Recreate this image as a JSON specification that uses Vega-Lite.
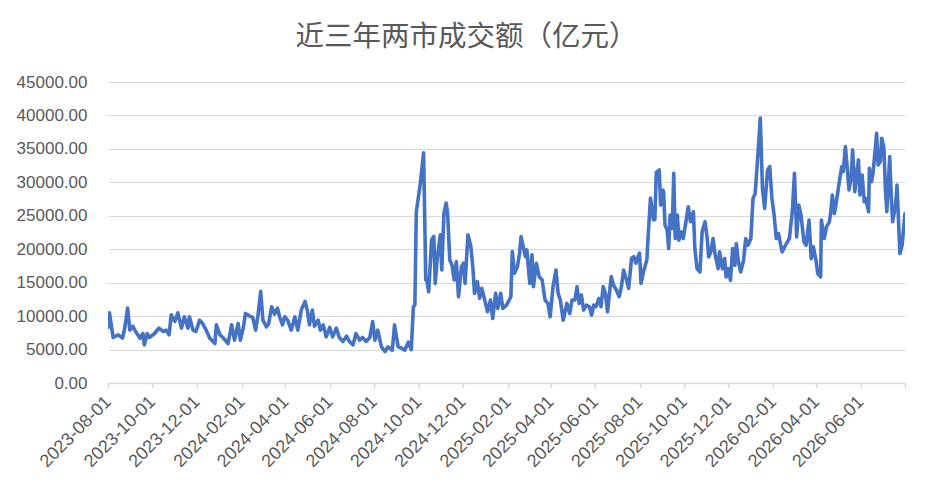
{
  "$schema": "https://vega.github.io/schema/vega-lite/v6.json",
  "width": 797,
  "height": 301,
  "autosize": "none",
  "padding": {"left": 108, "top": 82, "right": 37, "bottom": 109},
  "background": "white",
  "title": {
    "text": "近三年两市成交额（亿元）",
    "font": "Noto Sans CJK SC",
    "fontSize": 28.5,
    "fontWeight": "normal",
    "color": "#595959",
    "anchor": "middle",
    "dx": -40,
    "offset": 22
  },
  "data": {
    "values": [
      {"date": "2023-08-01", "amount": 8300},
      {"date": "2023-08-03", "amount": 10500},
      {"date": "2023-08-08", "amount": 6800},
      {"date": "2023-08-15", "amount": 7200},
      {"date": "2023-08-21", "amount": 6700},
      {"date": "2023-08-24", "amount": 8200},
      {"date": "2023-08-28", "amount": 11200},
      {"date": "2023-08-31", "amount": 7900},
      {"date": "2023-09-04", "amount": 8500},
      {"date": "2023-09-08", "amount": 7700},
      {"date": "2023-09-14", "amount": 6700},
      {"date": "2023-09-18", "amount": 7400},
      {"date": "2023-09-20", "amount": 5700},
      {"date": "2023-09-24", "amount": 7400},
      {"date": "2023-09-27", "amount": 6800},
      {"date": "2023-10-04", "amount": 7400},
      {"date": "2023-10-10", "amount": 8200},
      {"date": "2023-10-16", "amount": 7700},
      {"date": "2023-10-20", "amount": 7900},
      {"date": "2023-10-24", "amount": 7200},
      {"date": "2023-10-27", "amount": 10200},
      {"date": "2023-11-01", "amount": 9200},
      {"date": "2023-11-05", "amount": 10500},
      {"date": "2023-11-10", "amount": 8200},
      {"date": "2023-11-14", "amount": 9900},
      {"date": "2023-11-19", "amount": 8200},
      {"date": "2023-11-21", "amount": 9900},
      {"date": "2023-11-26", "amount": 7900},
      {"date": "2023-11-30", "amount": 7700},
      {"date": "2023-12-05", "amount": 9400},
      {"date": "2023-12-09", "amount": 8900},
      {"date": "2023-12-14", "amount": 7900},
      {"date": "2023-12-19", "amount": 6700},
      {"date": "2023-12-26", "amount": 5900},
      {"date": "2023-12-28", "amount": 8700},
      {"date": "2024-01-02", "amount": 7200},
      {"date": "2024-01-06", "amount": 6800},
      {"date": "2024-01-13", "amount": 5900},
      {"date": "2024-01-18", "amount": 8700},
      {"date": "2024-01-22", "amount": 6400},
      {"date": "2024-01-27", "amount": 8900},
      {"date": "2024-01-30", "amount": 6400},
      {"date": "2024-02-03", "amount": 8200},
      {"date": "2024-02-06", "amount": 10400},
      {"date": "2024-02-12", "amount": 10000},
      {"date": "2024-02-16", "amount": 9800},
      {"date": "2024-02-20", "amount": 7900},
      {"date": "2024-02-23", "amount": 9900},
      {"date": "2024-02-27", "amount": 13700},
      {"date": "2024-03-01", "amount": 9400},
      {"date": "2024-03-06", "amount": 8400},
      {"date": "2024-03-09", "amount": 8900},
      {"date": "2024-03-13", "amount": 11400},
      {"date": "2024-03-17", "amount": 10300},
      {"date": "2024-03-21", "amount": 11200},
      {"date": "2024-03-24", "amount": 9900},
      {"date": "2024-03-28", "amount": 8700},
      {"date": "2024-03-31", "amount": 9900},
      {"date": "2024-04-04", "amount": 9400},
      {"date": "2024-04-09", "amount": 7900},
      {"date": "2024-04-14", "amount": 9900},
      {"date": "2024-04-18", "amount": 7900},
      {"date": "2024-04-23", "amount": 11000},
      {"date": "2024-04-28", "amount": 12200},
      {"date": "2024-05-01", "amount": 10900},
      {"date": "2024-05-04", "amount": 8700},
      {"date": "2024-05-08", "amount": 10900},
      {"date": "2024-05-11", "amount": 8500},
      {"date": "2024-05-16", "amount": 9400},
      {"date": "2024-05-19", "amount": 7900},
      {"date": "2024-05-23", "amount": 8700},
      {"date": "2024-05-27", "amount": 6900},
      {"date": "2024-06-01", "amount": 8300},
      {"date": "2024-06-05", "amount": 6900},
      {"date": "2024-06-10", "amount": 8200},
      {"date": "2024-06-14", "amount": 6800},
      {"date": "2024-06-19", "amount": 6200},
      {"date": "2024-06-24", "amount": 7000},
      {"date": "2024-06-28", "amount": 6200},
      {"date": "2024-07-03", "amount": 5700},
      {"date": "2024-07-07", "amount": 7400},
      {"date": "2024-07-12", "amount": 6400},
      {"date": "2024-07-16", "amount": 6800},
      {"date": "2024-07-21", "amount": 6200},
      {"date": "2024-07-26", "amount": 6800},
      {"date": "2024-07-30", "amount": 9200},
      {"date": "2024-08-02", "amount": 6400},
      {"date": "2024-08-06", "amount": 7900},
      {"date": "2024-08-11", "amount": 5400},
      {"date": "2024-08-16", "amount": 4700},
      {"date": "2024-08-20", "amount": 5400},
      {"date": "2024-08-26", "amount": 4900},
      {"date": "2024-08-29", "amount": 8700},
      {"date": "2024-09-03", "amount": 5400},
      {"date": "2024-09-08", "amount": 5200},
      {"date": "2024-09-12", "amount": 4900},
      {"date": "2024-09-17", "amount": 6100},
      {"date": "2024-09-21", "amount": 5000},
      {"date": "2024-09-24", "amount": 11400},
      {"date": "2024-09-26", "amount": 11650},
      {"date": "2024-09-28", "amount": 25650},
      {"date": "2024-10-03", "amount": 29400},
      {"date": "2024-10-08", "amount": 34400},
      {"date": "2024-10-11", "amount": 15400},
      {"date": "2024-10-12", "amount": 15650},
      {"date": "2024-10-15", "amount": 13650},
      {"date": "2024-10-19", "amount": 21400},
      {"date": "2024-10-22", "amount": 21900},
      {"date": "2024-10-24", "amount": 14900},
      {"date": "2024-10-27", "amount": 18900},
      {"date": "2024-10-31", "amount": 22150},
      {"date": "2024-11-02", "amount": 16900},
      {"date": "2024-11-05", "amount": 25400},
      {"date": "2024-11-08", "amount": 26900},
      {"date": "2024-11-10", "amount": 25400},
      {"date": "2024-11-13", "amount": 18400},
      {"date": "2024-11-16", "amount": 17650},
      {"date": "2024-11-19", "amount": 15400},
      {"date": "2024-11-22", "amount": 18150},
      {"date": "2024-11-25", "amount": 12900},
      {"date": "2024-11-29", "amount": 17400},
      {"date": "2024-12-02", "amount": 17900},
      {"date": "2024-12-04", "amount": 14900},
      {"date": "2024-12-08", "amount": 22150},
      {"date": "2024-12-12", "amount": 20400},
      {"date": "2024-12-15", "amount": 16900},
      {"date": "2024-12-17", "amount": 13400},
      {"date": "2024-12-21", "amount": 15150},
      {"date": "2024-12-24", "amount": 12650},
      {"date": "2024-12-27", "amount": 14150},
      {"date": "2024-12-31", "amount": 12400},
      {"date": "2025-01-04", "amount": 10650},
      {"date": "2025-01-08", "amount": 12400},
      {"date": "2025-01-11", "amount": 9650},
      {"date": "2025-01-15", "amount": 13400},
      {"date": "2025-01-18", "amount": 11150},
      {"date": "2025-01-22", "amount": 13400},
      {"date": "2025-01-25", "amount": 11150},
      {"date": "2025-01-30", "amount": 11650},
      {"date": "2025-02-05", "amount": 12900},
      {"date": "2025-02-07", "amount": 19650},
      {"date": "2025-02-10", "amount": 16400},
      {"date": "2025-02-14", "amount": 17400},
      {"date": "2025-02-17", "amount": 19400},
      {"date": "2025-02-19", "amount": 21900},
      {"date": "2025-02-22", "amount": 20400},
      {"date": "2025-02-25", "amount": 18900},
      {"date": "2025-02-27", "amount": 19900},
      {"date": "2025-03-03", "amount": 14900},
      {"date": "2025-03-06", "amount": 19150},
      {"date": "2025-03-08", "amount": 14400},
      {"date": "2025-03-12", "amount": 17900},
      {"date": "2025-03-16", "amount": 15900},
      {"date": "2025-03-20", "amount": 15400},
      {"date": "2025-03-24", "amount": 12400},
      {"date": "2025-03-28", "amount": 11900},
      {"date": "2025-03-31", "amount": 9900},
      {"date": "2025-04-04", "amount": 14400},
      {"date": "2025-04-08", "amount": 16900},
      {"date": "2025-04-11", "amount": 13400},
      {"date": "2025-04-14", "amount": 12400},
      {"date": "2025-04-18", "amount": 9400},
      {"date": "2025-04-23", "amount": 11900},
      {"date": "2025-04-27", "amount": 10400},
      {"date": "2025-04-30", "amount": 12400},
      {"date": "2025-05-04", "amount": 12400},
      {"date": "2025-05-07", "amount": 14400},
      {"date": "2025-05-10", "amount": 11900},
      {"date": "2025-05-13", "amount": 13150},
      {"date": "2025-05-16", "amount": 10900},
      {"date": "2025-05-20", "amount": 11650},
      {"date": "2025-05-24", "amount": 11400},
      {"date": "2025-05-27", "amount": 10150},
      {"date": "2025-05-30", "amount": 11650},
      {"date": "2025-06-02", "amount": 11400},
      {"date": "2025-06-06", "amount": 12650},
      {"date": "2025-06-09", "amount": 11400},
      {"date": "2025-06-12", "amount": 14400},
      {"date": "2025-06-15", "amount": 13400},
      {"date": "2025-06-18", "amount": 10650},
      {"date": "2025-06-23", "amount": 15900},
      {"date": "2025-06-26", "amount": 14650},
      {"date": "2025-06-30", "amount": 13900},
      {"date": "2025-07-04", "amount": 12900},
      {"date": "2025-07-07", "amount": 14400},
      {"date": "2025-07-10", "amount": 16900},
      {"date": "2025-07-14", "amount": 15400},
      {"date": "2025-07-17", "amount": 14150},
      {"date": "2025-07-21", "amount": 18650},
      {"date": "2025-07-24", "amount": 18900},
      {"date": "2025-07-27", "amount": 17900},
      {"date": "2025-07-30", "amount": 18900},
      {"date": "2025-08-01", "amount": 19400},
      {"date": "2025-08-03", "amount": 14900},
      {"date": "2025-08-07", "amount": 16900},
      {"date": "2025-08-11", "amount": 18400},
      {"date": "2025-08-13", "amount": 22400},
      {"date": "2025-08-16", "amount": 27650},
      {"date": "2025-08-20", "amount": 24400},
      {"date": "2025-08-22", "amount": 24400},
      {"date": "2025-08-24", "amount": 31500},
      {"date": "2025-08-28", "amount": 31850},
      {"date": "2025-08-30", "amount": 26600},
      {"date": "2025-09-02", "amount": 28850},
      {"date": "2025-09-03", "amount": 28600},
      {"date": "2025-09-05", "amount": 23600},
      {"date": "2025-09-08", "amount": 22850},
      {"date": "2025-09-10", "amount": 20100},
      {"date": "2025-09-12", "amount": 25100},
      {"date": "2025-09-15", "amount": 23100},
      {"date": "2025-09-17", "amount": 31350},
      {"date": "2025-09-19", "amount": 21600},
      {"date": "2025-09-22", "amount": 25100},
      {"date": "2025-09-24", "amount": 21350},
      {"date": "2025-09-27", "amount": 22600},
      {"date": "2025-09-30", "amount": 21600},
      {"date": "2025-10-03", "amount": 23600},
      {"date": "2025-10-07", "amount": 26350},
      {"date": "2025-10-10", "amount": 24100},
      {"date": "2025-10-14", "amount": 25600},
      {"date": "2025-10-16", "amount": 20100},
      {"date": "2025-10-19", "amount": 17100},
      {"date": "2025-10-23", "amount": 16600},
      {"date": "2025-10-26", "amount": 22600},
      {"date": "2025-10-30", "amount": 24100},
      {"date": "2025-11-02", "amount": 21600},
      {"date": "2025-11-04", "amount": 18850},
      {"date": "2025-11-07", "amount": 19600},
      {"date": "2025-11-10", "amount": 21600},
      {"date": "2025-11-13", "amount": 19100},
      {"date": "2025-11-17", "amount": 17100},
      {"date": "2025-11-19", "amount": 19600},
      {"date": "2025-11-23", "amount": 17100},
      {"date": "2025-11-26", "amount": 18600},
      {"date": "2025-11-28", "amount": 15850},
      {"date": "2025-12-01", "amount": 17100},
      {"date": "2025-12-04", "amount": 15350},
      {"date": "2025-12-07", "amount": 20100},
      {"date": "2025-12-10", "amount": 17600},
      {"date": "2025-12-12", "amount": 20850},
      {"date": "2025-12-15", "amount": 18100},
      {"date": "2025-12-18", "amount": 16600},
      {"date": "2025-12-22", "amount": 18350},
      {"date": "2025-12-25", "amount": 21600},
      {"date": "2025-12-28", "amount": 20600},
      {"date": "2026-01-01", "amount": 21600},
      {"date": "2026-01-04", "amount": 27600},
      {"date": "2026-01-07", "amount": 28350},
      {"date": "2026-01-11", "amount": 34600},
      {"date": "2026-01-14", "amount": 39600},
      {"date": "2026-01-17", "amount": 29100},
      {"date": "2026-01-20", "amount": 26100},
      {"date": "2026-01-24", "amount": 31850},
      {"date": "2026-01-27", "amount": 32350},
      {"date": "2026-01-30", "amount": 27600},
      {"date": "2026-02-02", "amount": 25100},
      {"date": "2026-02-05", "amount": 21600},
      {"date": "2026-02-08", "amount": 22350},
      {"date": "2026-02-13", "amount": 19600},
      {"date": "2026-02-19", "amount": 20850},
      {"date": "2026-02-23", "amount": 21600},
      {"date": "2026-02-27", "amount": 25600},
      {"date": "2026-03-02", "amount": 31350},
      {"date": "2026-03-05", "amount": 21850},
      {"date": "2026-03-08", "amount": 26600},
      {"date": "2026-03-11", "amount": 25100},
      {"date": "2026-03-15", "amount": 21100},
      {"date": "2026-03-18", "amount": 20600},
      {"date": "2026-03-22", "amount": 24350},
      {"date": "2026-03-25", "amount": 18600},
      {"date": "2026-03-28", "amount": 20350},
      {"date": "2026-04-01", "amount": 18100},
      {"date": "2026-04-03", "amount": 16350},
      {"date": "2026-04-07", "amount": 15850},
      {"date": "2026-04-08", "amount": 24350},
      {"date": "2026-04-12", "amount": 21600},
      {"date": "2026-04-15", "amount": 23350},
      {"date": "2026-04-19", "amount": 24100},
      {"date": "2026-04-21", "amount": 25600},
      {"date": "2026-04-23", "amount": 28100},
      {"date": "2026-04-26", "amount": 25350},
      {"date": "2026-04-30", "amount": 28100},
      {"date": "2026-05-03", "amount": 30350},
      {"date": "2026-05-06", "amount": 32350},
      {"date": "2026-05-08", "amount": 31600},
      {"date": "2026-05-11", "amount": 35350},
      {"date": "2026-05-13", "amount": 32850},
      {"date": "2026-05-16", "amount": 28850},
      {"date": "2026-05-19", "amount": 30850},
      {"date": "2026-05-21", "amount": 34850},
      {"date": "2026-05-24", "amount": 28600},
      {"date": "2026-05-27", "amount": 31600},
      {"date": "2026-05-29", "amount": 33350},
      {"date": "2026-05-31", "amount": 28100},
      {"date": "2026-06-03", "amount": 31100},
      {"date": "2026-06-06", "amount": 27100},
      {"date": "2026-06-08", "amount": 27600},
      {"date": "2026-06-12", "amount": 25600},
      {"date": "2026-06-13", "amount": 32100},
      {"date": "2026-06-16", "amount": 30100},
      {"date": "2026-06-18", "amount": 31350},
      {"date": "2026-06-21", "amount": 34850},
      {"date": "2026-06-23", "amount": 37350},
      {"date": "2026-06-25", "amount": 32600},
      {"date": "2026-06-28", "amount": 33100},
      {"date": "2026-06-30", "amount": 36600},
      {"date": "2026-07-03", "amount": 35100},
      {"date": "2026-07-05", "amount": 29100},
      {"date": "2026-07-07", "amount": 25600},
      {"date": "2026-07-11", "amount": 33850},
      {"date": "2026-07-13", "amount": 28100},
      {"date": "2026-07-15", "amount": 24100},
      {"date": "2026-07-19", "amount": 26600},
      {"date": "2026-07-21", "amount": 29600},
      {"date": "2026-07-25", "amount": 19350},
      {"date": "2026-07-28", "amount": 20600},
      {"date": "2026-08-01", "amount": 25350}
    ]
  },
  "mark": {
    "type": "line",
    "color": "#4472C4",
    "strokeWidth": 3.6,
    "strokeJoin": "round",
    "strokeCap": "round",
    "clip": true
  },
  "encoding": {
    "x": {
      "field": "date",
      "type": "temporal",
      "title": null,
      "scale": {
        "type": "utc",
        "domain": [
          {"year": 2023, "month": 8, "date": 1, "utc": true},
          {"year": 2026, "month": 8, "date": 1, "utc": true}
        ]
      },
      "axis": {
        "values": [
          {"year": 2023, "month": 8, "date": 1, "utc": true},
          {"year": 2023, "month": 10, "date": 1, "utc": true},
          {"year": 2023, "month": 12, "date": 1, "utc": true},
          {"year": 2024, "month": 2, "date": 1, "utc": true},
          {"year": 2024, "month": 4, "date": 1, "utc": true},
          {"year": 2024, "month": 6, "date": 1, "utc": true},
          {"year": 2024, "month": 8, "date": 1, "utc": true},
          {"year": 2024, "month": 10, "date": 1, "utc": true},
          {"year": 2024, "month": 12, "date": 1, "utc": true},
          {"year": 2025, "month": 2, "date": 1, "utc": true},
          {"year": 2025, "month": 4, "date": 1, "utc": true},
          {"year": 2025, "month": 6, "date": 1, "utc": true},
          {"year": 2025, "month": 8, "date": 1, "utc": true},
          {"year": 2025, "month": 10, "date": 1, "utc": true},
          {"year": 2025, "month": 12, "date": 1, "utc": true},
          {"year": 2026, "month": 2, "date": 1, "utc": true},
          {"year": 2026, "month": 4, "date": 1, "utc": true},
          {"year": 2026, "month": 6, "date": 1, "utc": true},
          {"year": 2026, "month": 8, "date": 1, "utc": true}
        ],
        "format": "%Y-%m-%d",
        "labelExpr": "utcFormat(datum.value, '%Y-%m') == '2026-08' ? '' : datum.label",
        "labelAngle": -45,
        "labelAlign": "right",
        "labelBaseline": "middle",
        "labelFontSize": 18,
        "labelPadding": 11,
        "labelOverlap": false,
        "labelBound": false,
        "labelFlush": false,
        "grid": false,
        "domainColor": "#d9d9d9",
        "domainWidth": 1.5,
        "tickColor": "#d9d9d9",
        "tickWidth": 1.5,
        "tickSize": 5
      }
    },
    "y": {
      "field": "amount",
      "type": "quantitative",
      "title": null,
      "scale": {"domain": [0, 45000], "nice": false, "zero": true},
      "axis": {
        "values": [0, 5000, 10000, 15000, 20000, 25000, 30000, 35000, 40000, 45000],
        "format": ".2f",
        "domain": false,
        "ticks": false,
        "tickSize": 0,
        "labelPadding": 21,
        "gridColor": "#d9d9d9",
        "gridWidth": 1.2
      }
    }
  },
  "config": {
    "view": {"stroke": null},
    "axis": {
      "labelFont": "Liberation Sans",
      "labelFontSize": 17,
      "labelColor": "#595959"
    }
  }
}
